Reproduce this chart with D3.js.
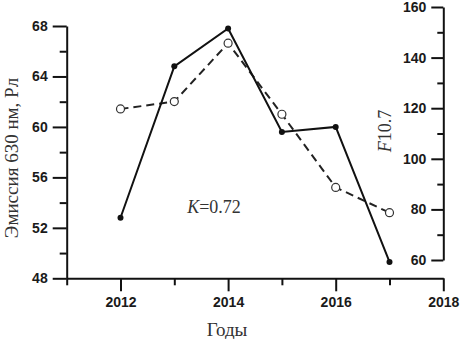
<!DOCTYPE html>
<html>
<head>
<meta charset="utf-8">
<script src="https://cdn.jsdelivr.net/npm/d3@7"></script>
<style>
body { margin: 0; background: #fff; }
.tick text { font-family: "Liberation Sans", Arial, sans-serif; font-weight: bold; font-size: 14px; fill: #1a1a1a; }
.title { font-family: "Liberation Serif", "Times New Roman", serif; font-size: 18px; fill: #333; }
</style>
</head>
<body>
<svg id="svg1" width="460" height="339"></svg>
<script>
var years = [2012, 2013, 2014, 2015, 2016, 2017];
var emission = [52.8, 64.8, 67.8, 59.6, 60.0, 49.3];
var f107 = [119.7, 122.6, 145.7, 117.6, 88.7, 78.7];
var xTicks = [2012, 2014, 2016, 2018];
var xMinor = [2011, 2013, 2015, 2017];
var leftTicks = [48, 52, 56, 60, 64, 68];
var leftMinor = [50, 54, 58, 62, 66];
var rightTicks = [60, 80, 100, 120, 140, 160];
var rightMinor = [70, 90, 110, 130, 150];

var svg = d3.select("#svg1");

var x = d3.scaleLinear().domain([2011, 2018]).range([66.7, 443.3]);
var yL = d3.scaleLinear().domain([48, 68]).range([278.3, 26]);
var yR = d3.scaleLinear().domain([60, 160]).range([260, 7]);

function styleAxis(g) {
    g.select(".domain").attr("stroke", "#111").attr("stroke-width", 2);
    g.selectAll(".tick line").attr("stroke", "#111").attr("stroke-width", 2);
}

// x axis
svg.append("g")
    .attr("transform", "translate(0," + yL(48) + ")")
    .call(d3.axisBottom(x).tickValues(xMinor).tickSize(7).tickSizeOuter(0).tickFormat(""))
    .call(styleAxis);
svg.append("g")
    .attr("transform", "translate(0," + yL(48) + ")")
    .call(d3.axisBottom(x).tickValues(xTicks).tickSize(13).tickSizeOuter(0).tickPadding(6).tickFormat(d3.format("d")))
    .call(styleAxis)
    .call(g => g.select(".domain").remove());

// left axis
svg.append("g")
    .attr("transform", "translate(" + x(2011) + ",0)")
    .call(d3.axisLeft(yL).tickValues(leftMinor).tickSize(7).tickSizeOuter(0).tickFormat(""))
    .call(styleAxis);
svg.append("g")
    .attr("transform", "translate(" + x(2011) + ",0)")
    .call(d3.axisLeft(yL).tickValues(leftTicks).tickSize(14).tickSizeOuter(0).tickPadding(5))
    .call(styleAxis)
    .call(g => g.select(".domain").remove());

// right axis, ticks pointing inward
svg.append("g")
    .attr("transform", "translate(" + x(2018) + ",0)")
    .call(d3.axisLeft(yR).tickValues(rightMinor).tickSize(6).tickSizeOuter(0).tickFormat(""))
    .call(styleAxis);
svg.append("g")
    .attr("transform", "translate(" + x(2018) + ",0)")
    .call(d3.axisLeft(yR).tickValues(rightTicks).tickSize(12).tickSizeOuter(0).tickPadding(5))
    .call(styleAxis)
    .call(g => g.select(".domain").remove());

// series
var dataE = years.map((d, i) => ({ year: d, v: emission[i] }));
var dataF = years.map((d, i) => ({ year: d, v: f107[i] }));

svg.append("path")
    .datum(dataF)
    .attr("fill", "none")
    .attr("stroke", "#222")
    .attr("stroke-width", 2)
    .attr("stroke-dasharray", "8,5")
    .attr("d", d3.line().x(d => x(d.year)).y(d => yR(d.v)));

svg.append("path")
    .datum(dataE)
    .attr("fill", "none")
    .attr("stroke", "#111")
    .attr("stroke-width", 2)
    .attr("d", d3.line().x(d => x(d.year)).y(d => yL(d.v)));

svg.selectAll("circle.f")
    .data(dataF)
    .join("circle")
    .classed("f", true)
    .attr("cx", d => x(d.year))
    .attr("cy", d => yR(d.v))
    .attr("r", 4)
    .attr("fill", "#fff")
    .attr("stroke", "#333")
    .attr("stroke-width", 1.2);

svg.selectAll("circle.e")
    .data(dataE)
    .join("circle")
    .classed("e", true)
    .attr("cx", d => x(d.year))
    .attr("cy", d => yL(d.v))
    .attr("r", 3)
    .attr("fill", "#111");

// titles
svg.append("text")
    .attr("class", "title")
    .attr("transform", "translate(18,158) rotate(-90)")
    .attr("text-anchor", "middle")
    .style("font-size", "19px")
    .text("Эмиссия 630 нм, Рл");

svg.append("text")
    .attr("class", "title")
    .attr("x", 227)
    .attr("y", 336)
    .attr("text-anchor", "middle")
    .style("font-size", "19px")
    .text("Годы");

var fl = svg.append("text")
    .attr("class", "title")
    .attr("transform", "translate(391,131) rotate(-90)")
    .attr("text-anchor", "middle");
fl.append("tspan").attr("font-style", "italic").text("F");
fl.append("tspan").text("10.7");

var kl = svg.append("text")
    .attr("class", "title")
    .attr("x", 214)
    .attr("y", 213)
    .attr("text-anchor", "middle")
    .style("font-size", "18px");
kl.append("tspan").attr("font-style", "italic").text("K");
kl.append("tspan").text("=0.72");
</script>
</body>
</html>
